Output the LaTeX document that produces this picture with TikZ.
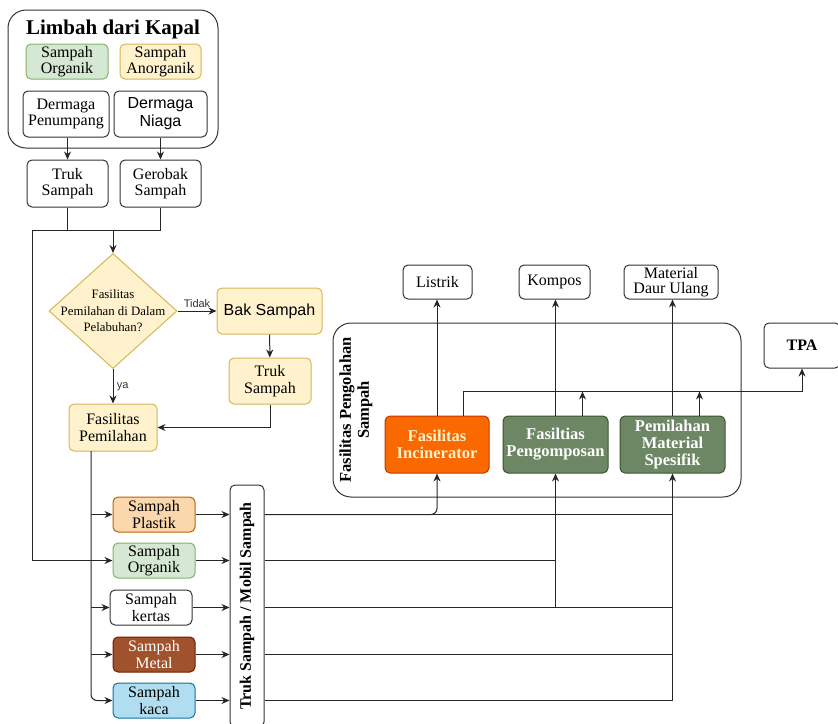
\documentclass[tikz,border=0pt]{standalone}
\usepackage{fontspec}
\setmainfont{Liberation Serif}
\newfontfamily\helv{Liberation Sans}
\usepackage{graphicx}
\usetikzlibrary{positioning, shapes.geometric, arrows.meta}

\definecolor{orgFill}{HTML}{D5E8D4}
\definecolor{orgLine}{HTML}{82B366}
\definecolor{yelFill}{HTML}{FFF2CC}
\definecolor{yelLine}{HTML}{D6B656}
\definecolor{plaFill}{HTML}{FAD7AC}
\definecolor{plaLine}{HTML}{B46504}
\definecolor{metFill}{HTML}{A0522D}
\definecolor{metLine}{HTML}{6D1F00}
\definecolor{kacFill}{HTML}{B1DDF0}
\definecolor{kacLine}{HTML}{10739E}
\definecolor{incFill}{HTML}{FA6800}
\definecolor{incLine}{HTML}{C73500}
\definecolor{hijFill}{HTML}{6D8764}
\definecolor{hijLine}{HTML}{3A5431}

\tikzset{
  kotak/.style={draw=black!80, line width=1pt, rounded corners=5, align=center, inner sep=1pt, font=\fontsize{16}{16.5}\selectfont},
  olah/.style={kotak, font=\fontsize{16.5}{17}\selectfont\bfseries, text=white, minimum width=105, minimum height=57},
  wadah/.style={draw=black!80, line width=1pt, rounded corners=18},
  panah/.style={-{Stealth[length=8pt,width=7pt]}, line width=1pt, black!85},
  garis/.style={line width=1pt, black!85},
}

\begin{document}
\begin{tikzpicture}[x=1pt, y=-1pt]
\useasboundingbox (0,0) rectangle (838,723);

\node (Kapal) [wadah, minimum width=210, minimum height=138] at (113,79) {};
\node (KapalJudul) [font=\fontsize{21}{23}\selectfont\bfseries] at (113,29) {Limbah dari Kapal};
\node (SOrg) [kotak, fill=orgFill, draw=orgLine, minimum width=82, minimum height=35] at (67,61.5) {Sampah\\Organik};
\node (SAnorg) [kotak, fill=yelFill, draw=yelLine, minimum width=81, minimum height=35, right=11 of SOrg] {Sampah\\Anorganik};
\node (DPen) [kotak, minimum width=86, minimum height=46] at (66,114) {Dermaga\\Penumpang};
\node (DNia) [kotak, font=\helv\fontsize{16}{18}\selectfont, minimum width=93, minimum height=46, right=4 of DPen] {Dermaga\\Niaga};

\node (Truk1) [kotak, minimum width=81, minimum height=47] at (67.5,183.5) {Truk\\Sampah};
\node (Gerobak) [kotak, minimum width=81, minimum height=47, right=11 of Truk1] {Gerobak\\Sampah};
\draw[panah] (DPen.south -| Truk1.north) -- (Truk1.north);
\draw[panah] (DNia.south) -- (Gerobak.north);

\coordinate (Gabung) at (113,230);
\coordinate (BusKiri) at (32,230);
\draw[garis] (Truk1.south) -- (Truk1.south |- Gabung);
\draw[garis] (Gerobak.south) -- (Gerobak.south |- Gabung) -- (BusKiri);

\node (Dec) [diamond, draw=yelLine, fill=yelFill, line width=1pt, minimum width=128, minimum height=115, inner sep=0pt] at (113,311) {};
\node (DecTeks) [align=center, font=\fontsize{12.8}{16.5}\selectfont] at (Dec.center) {Fasilitas\\Pemilahan di Dalam\\Pelabuhan?};
\draw[panah] (Gabung) -- (Dec.north);

\node (Bak) [kotak, fill=yelFill, draw=yelLine, font=\helv\fontsize{16}{18}\selectfont, minimum width=105, minimum height=46] at (269.5,311) {Bak Sampah};
\node (Truk2) [kotak, fill=yelFill, draw=yelLine, minimum width=82, minimum height=46] at (270,381) {Truk\\Sampah};
\node (FasP) [kotak, fill=yelFill, draw=yelLine, minimum width=88, minimum height=47] at (113,427.5) {Fasilitas\\Pemilahan};
\draw[panah] (Dec.east) -- (Bak.west) node (TidakLbl) [midway, above, font=\helv\fontsize{11}{13}\selectfont, text=black!80] {Tidak};
\draw[panah] (Bak) -- (Truk2);
\draw[panah] (Dec.south) -- (FasP.north) node (YaLbl) [midway, right, font=\helv\fontsize{11}{13}\selectfont, text=black!80] {ya};
\draw[panah] (Truk2.south) |- (FasP.east);

\node (Plastik) [kotak, fill=plaFill, draw=plaLine, minimum width=82, minimum height=35] at (154,514.5) {Sampah\\Plastik};
\node (Organik) [kotak, fill=orgFill, draw=orgLine, minimum width=82, minimum height=35] at (154,560.5) {Sampah\\Organik};
\node (Kertas) [kotak, minimum width=82, minimum height=35] at (151,607.5) {Sampah\\kertas};
\node (Metal) [kotak, fill=metFill, draw=metLine, text=white, minimum width=82, minimum height=35] at (154,654.5) {Sampah\\Metal};
\node (Kaca) [kotak, fill=kacFill, draw=kacLine, minimum width=82, minimum height=35] at (154,700.5) {Sampah\\kaca};
\node (Truk3) [kotak, font=\fontsize{16}{17}\selectfont\bfseries, inner sep=0pt, minimum width=34, minimum height=242] at (247,606) {\rotatebox{90}{Truk Sampah / Mobil Sampah}};

\coordinate (BusPilah) at (91,451);
\draw[panah, rounded corners=6] (BusPilah) |- (Kaca.west);
\foreach \s in {Plastik, Kertas, Metal}
  \draw[panah] (BusPilah |- \s.west) -- (\s.west);
\draw[panah] (BusKiri) |- (Organik.west);
\foreach \s in {Plastik, Organik, Kertas, Metal, Kaca}
  \draw[panah] (\s.east) -- (\s.east -| Truk3.west);

\node (Olah) [wadah, minimum width=408, minimum height=174] at (537,410) {};
\node (OlahJudul) [rotate=90, align=center, font=\fontsize{16.5}{18}\selectfont\bfseries] at (356,410) {Fasilitas Pengolahan\\Sampah};
\node (Incin) [olah, fill=incFill, draw=incLine, text=yelFill, minimum width=104] at (437,444.5) {Fasilitas\\Incinerator};
\node (Pengom) [olah, fill=hijFill, draw=hijLine, right=13 of Incin] {Fasiltias\\Pengomposan};
\node (PMS) [olah, fill=hijFill, draw=hijLine, right=11 of Pengom] {Pemilahan\\Material\\Spesifik};

\node (Listrik) [kotak, minimum width=69, minimum height=34] at (437.5,282) {Listrik};
\node (Kompos) [kotak, minimum width=71, minimum height=34] at (554.5,282) {Kompos};
\node (MDU) [kotak, font=\fontsize{16}{15.5}\selectfont, inner sep=0pt, minimum width=94, minimum height=34] at (671,282) {Material\\Daur Ulang};
\node (TPA) [kotak, font=\fontsize{16}{17}\selectfont\bfseries, minimum width=76, minimum height=45] at (802,345.5) {TPA};

\draw[panah] (Incin.north) -- (Incin.north |- Listrik.south);
\draw[panah] (Pengom.north) -- (Pengom.north |- Kompos.south);
\draw[panah] (PMS.north) -- (PMS.north |- MDU.south);
\draw[panah] ([xshift=26pt]Incin.north) -- ++(0,-24) coordinate (BusTPA) -| (TPA.south);
\foreach \f in {Pengom, PMS}
  \draw[panah] ([xshift=27pt]\f.north) -- ++(0,-24);

\draw[panah, rounded corners=6] (Truk3.east |- Plastik.east) -| (Incin.south);
\draw[garis] (Truk3.east |- Plastik.east) -- (PMS.south |- Plastik.east);
\draw[garis] (Truk3.east |- Organik.east) -- (Pengom.south |- Organik.east);
\draw[panah] (Truk3.east |- Kertas.east) -| (Pengom.south);
\draw[garis] (Truk3.east |- Kertas.east) -- (PMS.south |- Kertas.east);
\draw[garis] (Truk3.east |- Metal.east) -- (PMS.south |- Metal.east);
\draw[panah] (Truk3.east |- Kaca.east) -| (PMS.south);
\end{tikzpicture}
\end{document}
